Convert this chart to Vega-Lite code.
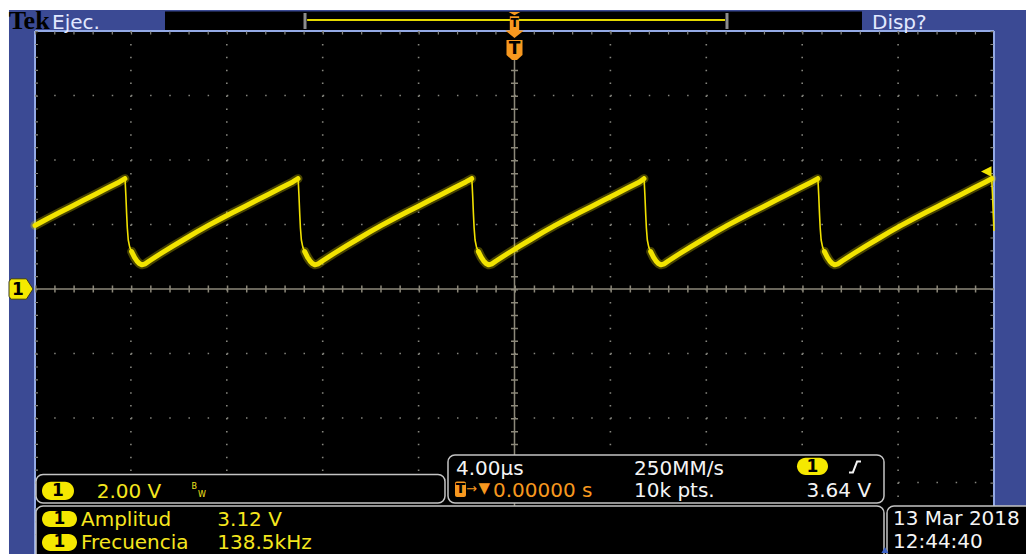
{
  "$schema": "https://vega.github.io/schema/vega-lite/v6.json",
  "width": 1026,
  "height": 554,
  "autosize": {"type": "none"},
  "padding": 0,
  "background": "#ffffff",
  "config": {"view": {"stroke": null}, "axis": {"disable": true}},
  "datasets": {
    "trace": [
      {"t":-20,"v":1.97,"s":"r0"},{"t":-19.48,"v":2.18,"s":"r0"},{"t":-18.98,"v":2.37,"s":"r0"},{"t":-18.48,"v":2.56,"s":"r0"},{"t":-17.98,"v":2.75,"s":"r0"},{"t":-17.48,"v":2.94,"s":"r0"},{"t":-16.98,"v":3.13,"s":"r0"},{"t":-16.48,"v":3.32,"s":"r0"},{"t":-16.25,"v":3.42,"s":"r0"},
      {"t":-16.25,"v":3.5,"s":"f1"},{"t":-16.21,"v":2.9,"s":"f1"},{"t":-16.18,"v":2.36,"s":"f1"},{"t":-16.15,"v":1.9,"s":"f1"},{"t":-16.11,"v":1.52,"s":"f1"},{"t":-16.05,"v":1.3,"s":"f1"},{"t":-15.97,"v":1.16,"s":"f1"},
      {"t":-15.97,"v":1.16,"s":"r1"},{"t":-15.85,"v":0.98,"s":"r1"},{"t":-15.75,"v":0.87,"s":"r1"},{"t":-15.65,"v":0.79,"s":"r1"},{"t":-15.55,"v":0.75,"s":"r1"},{"t":-15.4,"v":0.78,"s":"r1"},{"t":-15.25,"v":0.86,"s":"r1"},{"t":-14.75,"v":1.1,"s":"r1"},{"t":-14.25,"v":1.33,"s":"r1"},{"t":-13.75,"v":1.55,"s":"r1"},{"t":-13.25,"v":1.77,"s":"r1"},{"t":-12.75,"v":1.98,"s":"r1"},{"t":-12.25,"v":2.18,"s":"r1"},{"t":-11.75,"v":2.37,"s":"r1"},{"t":-11.25,"v":2.56,"s":"r1"},{"t":-10.75,"v":2.75,"s":"r1"},{"t":-10.25,"v":2.94,"s":"r1"},{"t":-9.75,"v":3.13,"s":"r1"},{"t":-9.25,"v":3.32,"s":"r1"},{"t":-9.03,"v":3.42,"s":"r1"},
      {"t":-9.03,"v":3.5,"s":"f2"},{"t":-8.99,"v":2.9,"s":"f2"},{"t":-8.96,"v":2.36,"s":"f2"},{"t":-8.93,"v":1.9,"s":"f2"},{"t":-8.89,"v":1.52,"s":"f2"},{"t":-8.83,"v":1.3,"s":"f2"},{"t":-8.75,"v":1.16,"s":"f2"},
      {"t":-8.75,"v":1.16,"s":"r2"},{"t":-8.63,"v":0.98,"s":"r2"},{"t":-8.53,"v":0.87,"s":"r2"},{"t":-8.43,"v":0.79,"s":"r2"},{"t":-8.33,"v":0.75,"s":"r2"},{"t":-8.18,"v":0.78,"s":"r2"},{"t":-8.03,"v":0.86,"s":"r2"},{"t":-7.53,"v":1.1,"s":"r2"},{"t":-7.03,"v":1.33,"s":"r2"},{"t":-6.53,"v":1.55,"s":"r2"},{"t":-6.03,"v":1.77,"s":"r2"},{"t":-5.53,"v":1.98,"s":"r2"},{"t":-5.03,"v":2.18,"s":"r2"},{"t":-4.53,"v":2.37,"s":"r2"},{"t":-4.03,"v":2.56,"s":"r2"},{"t":-3.53,"v":2.75,"s":"r2"},{"t":-3.03,"v":2.94,"s":"r2"},{"t":-2.53,"v":3.13,"s":"r2"},{"t":-2.03,"v":3.32,"s":"r2"},{"t":-1.785,"v":3.42,"s":"r2"},
      {"t":-1.785,"v":3.5,"s":"f3"},{"t":-1.745,"v":2.9,"s":"f3"},{"t":-1.715,"v":2.36,"s":"f3"},{"t":-1.685,"v":1.9,"s":"f3"},{"t":-1.645,"v":1.52,"s":"f3"},{"t":-1.585,"v":1.3,"s":"f3"},{"t":-1.505,"v":1.16,"s":"f3"},
      {"t":-1.505,"v":1.16,"s":"r3"},{"t":-1.385,"v":0.98,"s":"r3"},{"t":-1.285,"v":0.87,"s":"r3"},{"t":-1.185,"v":0.79,"s":"r3"},{"t":-1.085,"v":0.75,"s":"r3"},{"t":-0.935,"v":0.78,"s":"r3"},{"t":-0.785,"v":0.86,"s":"r3"},{"t":-0.285,"v":1.1,"s":"r3"},{"t":0.215,"v":1.33,"s":"r3"},{"t":0.715,"v":1.55,"s":"r3"},{"t":1.215,"v":1.77,"s":"r3"},{"t":1.715,"v":1.98,"s":"r3"},{"t":2.215,"v":2.18,"s":"r3"},{"t":2.715,"v":2.37,"s":"r3"},{"t":3.215,"v":2.56,"s":"r3"},{"t":3.715,"v":2.75,"s":"r3"},{"t":4.215,"v":2.94,"s":"r3"},{"t":4.715,"v":3.13,"s":"r3"},{"t":5.215,"v":3.32,"s":"r3"},{"t":5.4,"v":3.42,"s":"r3"},
      {"t":5.4,"v":3.5,"s":"f4"},{"t":5.44,"v":2.9,"s":"f4"},{"t":5.47,"v":2.36,"s":"f4"},{"t":5.5,"v":1.9,"s":"f4"},{"t":5.54,"v":1.52,"s":"f4"},{"t":5.6,"v":1.3,"s":"f4"},{"t":5.68,"v":1.16,"s":"f4"},
      {"t":5.68,"v":1.16,"s":"r4"},{"t":5.8,"v":0.98,"s":"r4"},{"t":5.9,"v":0.87,"s":"r4"},{"t":6.0,"v":0.79,"s":"r4"},{"t":6.1,"v":0.75,"s":"r4"},{"t":6.25,"v":0.78,"s":"r4"},{"t":6.4,"v":0.86,"s":"r4"},{"t":6.9,"v":1.1,"s":"r4"},{"t":7.4,"v":1.33,"s":"r4"},{"t":7.9,"v":1.55,"s":"r4"},{"t":8.4,"v":1.77,"s":"r4"},{"t":8.9,"v":1.98,"s":"r4"},{"t":9.4,"v":2.18,"s":"r4"},{"t":9.9,"v":2.37,"s":"r4"},{"t":10.4,"v":2.56,"s":"r4"},{"t":10.9,"v":2.75,"s":"r4"},{"t":11.4,"v":2.94,"s":"r4"},{"t":11.9,"v":3.13,"s":"r4"},{"t":12.4,"v":3.32,"s":"r4"},{"t":12.65,"v":3.42,"s":"r4"},
      {"t":12.65,"v":3.5,"s":"f5"},{"t":12.69,"v":2.9,"s":"f5"},{"t":12.72,"v":2.36,"s":"f5"},{"t":12.75,"v":1.9,"s":"f5"},{"t":12.79,"v":1.52,"s":"f5"},{"t":12.85,"v":1.3,"s":"f5"},{"t":12.93,"v":1.16,"s":"f5"},
      {"t":12.93,"v":1.16,"s":"r5"},{"t":13.05,"v":0.98,"s":"r5"},{"t":13.15,"v":0.87,"s":"r5"},{"t":13.25,"v":0.79,"s":"r5"},{"t":13.35,"v":0.75,"s":"r5"},{"t":13.5,"v":0.78,"s":"r5"},{"t":13.65,"v":0.86,"s":"r5"},{"t":14.15,"v":1.1,"s":"r5"},{"t":14.65,"v":1.33,"s":"r5"},{"t":15.15,"v":1.55,"s":"r5"},{"t":15.65,"v":1.77,"s":"r5"},{"t":16.15,"v":1.98,"s":"r5"},{"t":16.65,"v":2.18,"s":"r5"},{"t":17.15,"v":2.37,"s":"r5"},{"t":17.65,"v":2.56,"s":"r5"},{"t":18.15,"v":2.75,"s":"r5"},{"t":18.65,"v":2.94,"s":"r5"},{"t":19.15,"v":3.13,"s":"r5"},{"t":19.65,"v":3.32,"s":"r5"},{"t":19.9,"v":3.42,"s":"r5"},
      {"t":19.9,"v":3.5,"s":"f6"},{"t":19.94,"v":2.9,"s":"f6"},{"t":19.97,"v":2.3,"s":"f6"},{"t":20.0,"v":1.8,"s":"f6"}
    ],
    "vgrid": [{"t":-16},{"t":-12},{"t":-8},{"t":-4},{"t":4},{"t":8},{"t":12},{"t":16}],
    "hgrid": [{"v":-6},{"v":-4},{"v":-2},{"v":2},{"v":4},{"v":6}],
    "edgesV": [{"t":-19.937},{"t":19.916}],
    "borders": [
      {"t":-20,"t2":-20,"v":8.0,"v2":-8.4},
      {"t":-20,"t2":20,"v":8.0,"v2":8.0},
      {"t":20,"t2":20,"v":8.0,"v2":-6.76}
    ],
    "panels": [
      {"t":-19.958,"t2":-2.899,"v":-5.752,"v2":-6.636},
      {"t":-2.774,"t2":15.412,"v":-5.147,"v2":-6.636},
      {"t":-19.958,"t2":15.412,"v":-6.729,"v2":-8.6},
      {"t":15.537,"t2":21.7,"v":-6.729,"v2":-8.6}
    ],
    "pills": [
      {"t":-19.708,"t2":-18.374,"v":-5.975,"v2":-6.543},
      {"t":11.783,"t2":13.076,"v":-5.231,"v2":-5.767},
      {"t":-19.708,"t2":-18.248,"v":-6.884,"v2":-7.38},
      {"t":-19.708,"t2":-18.248,"v":-7.597,"v2":-8.124}
    ],
    "pillDigits": [
      {"t":-19.041,"v":-6.254,"label":"1"},
      {"t":12.43,"v":-5.504,"label":"1"},
      {"t":-18.978,"v":-7.132,"label":"1"},
      {"t":-18.978,"v":-7.86,"label":"1"},
      {"t":-20.709,"v":-0.02,"label":"1"}
    ],
    "yellowText": [
      {"t":-17.427,"v":-6.49,"label":"2.00 V"},
      {"t":-18.081,"v":-7.349,"label":"Amplitud"},
      {"t":-12.396,"v":-7.349,"label":"3.12 V"},
      {"t":-18.081,"v":-8.047,"label":"Frecuencia"},
      {"t":-12.396,"v":-8.047,"label":"138.5kHz"}
    ],
    "whiteText": [
      {"t":-2.44,"v":-5.752,"label":"4.00µs"},
      {"t":4.984,"v":-5.752,"label":"250MM/s"},
      {"t":4.984,"v":-6.45,"label":"10k pts."},
      {"t":12.18,"v":-6.45,"label":"3.64 V"},
      {"t":15.787,"v":-7.318,"label":"13 Mar  2018"},
      {"t":15.787,"v":-8.037,"label":"12:44:40"}
    ],
    "topText": [
      {"t":-19.291,"v":8.062,"label":"Ejec."},
      {"t":14.911,"v":8.062,"label":"Disp?"}
    ]
  },
  "layer": [
    {"data": {"values": [{}]}, "mark": {"type": "rect", "fill": "#3b4a94"},
     "encoding": {
       "x": {"datum": -21.085, "type": "quantitative", "scale": {"domain": [-21.46, 21.335], "nice": false, "zero": false}, "axis": null},
       "x2": {"datum": 21.5},
       "y": {"datum": 8.651, "type": "quantitative", "scale": {"domain": [-8.217, 8.961], "nice": false, "zero": false}, "axis": null},
       "y2": {"datum": -8.4}}},
    {"data": {"values": [{}]}, "mark": {"type": "rect", "fill": "#000000"},
     "encoding": {"x": {"datum": -20, "type": "quantitative"}, "x2": {"datum": 20}, "y": {"datum": 8.0, "type": "quantitative"}, "y2": {"datum": -8.4}}},
    {"data": {"values": [{}]}, "mark": {"type": "rect", "fill": "#000000"},
     "encoding": {"x": {"datum": -14.578, "type": "quantitative"}, "x2": {"datum": 14.494}, "y": {"datum": 8.605, "type": "quantitative"}, "y2": {"datum": 8.031}}},
    {"data": {"name": "borders"}, "mark": {"type": "rule", "color": "#94aae6", "strokeWidth": 2},
     "encoding": {"x": {"field": "t", "type": "quantitative"}, "x2": {"field": "t2"}, "y": {"field": "v", "type": "quantitative"}, "y2": {"field": "v2"}}},
    {"data": {"name": "vgrid"}, "mark": {"type": "rule", "color": "#85857e", "strokeWidth": 1.6, "strokeDash": [1.5, 11.4]},
     "encoding": {"x": {"field": "t", "type": "quantitative"}, "y": {"datum": 8, "type": "quantitative"}, "y2": {"datum": -8}}},
    {"data": {"name": "hgrid"}, "mark": {"type": "rule", "color": "#85857e", "strokeWidth": 1.6, "strokeDash": [1.5, 17.68]},
     "encoding": {"y": {"field": "v", "type": "quantitative"}, "x": {"datum": -20, "type": "quantitative"}, "x2": {"datum": 20}}},
    {"data": {"name": "edgesV"}, "mark": {"type": "rule", "color": "#85857e", "strokeWidth": 3, "strokeDash": [1.2, 11.7]},
     "encoding": {"x": {"field": "t", "type": "quantitative"}, "y": {"datum": 8, "type": "quantitative"}, "y2": {"datum": -8}}},
    {"data": {"values": [{}]}, "mark": {"type": "rule", "color": "#85857e", "strokeWidth": 3, "strokeDash": [1.2, 17.98]},
     "encoding": {"x": {"datum": -20, "type": "quantitative"}, "x2": {"datum": 20}, "y": {"datum": 7.938, "type": "quantitative"}}},
    {"data": {"values": [{}]}, "mark": {"type": "rule", "color": "#8c887a", "strokeWidth": 1.5},
     "encoding": {"x": {"datum": -20, "type": "quantitative"}, "x2": {"datum": 20}, "y": {"datum": 0, "type": "quantitative"}}},
    {"data": {"values": [{}]}, "mark": {"type": "rule", "color": "#8c887a", "strokeWidth": 7, "strokeDash": [1.5, 17.68]},
     "encoding": {"x": {"datum": -20, "type": "quantitative"}, "x2": {"datum": 20}, "y": {"datum": 0, "type": "quantitative"}}},
    {"data": {"values": [{}]}, "mark": {"type": "rule", "color": "#8c887a", "strokeWidth": 1.5},
     "encoding": {"x": {"datum": 0, "type": "quantitative"}, "y": {"datum": 7.1, "type": "quantitative"}, "y2": {"datum": -8}}},
    {"data": {"values": [{}]}, "mark": {"type": "rule", "color": "#8c887a", "strokeWidth": 7, "strokeDash": [1.5, 11.4]},
     "encoding": {"x": {"datum": 0, "type": "quantitative"}, "y": {"datum": 8, "type": "quantitative"}, "y2": {"datum": -8}}},
    {"data": {"name": "trace"}, "transform": [{"filter": "indexof(datum.s,'f')==0"}],
     "mark": {"type": "line", "color": "#f0e000", "strokeWidth": 1.6, "strokeJoin": "round"},
     "encoding": {"x": {"field": "t", "type": "quantitative"}, "y": {"field": "v", "type": "quantitative"}, "detail": {"field": "s"}, "order": {"field": "t", "type": "quantitative"}}},
    {"data": {"name": "trace"}, "transform": [{"filter": "indexof(datum.s,'r')==0"}],
     "mark": {"type": "line", "color": "#f0e000", "strokeWidth": 9, "opacity": 0.3, "strokeJoin": "round", "strokeCap": "round"},
     "encoding": {"x": {"field": "t", "type": "quantitative"}, "y": {"field": "v", "type": "quantitative"}, "detail": {"field": "s"}, "order": {"field": "t", "type": "quantitative"}}},
    {"data": {"name": "trace"}, "transform": [{"filter": "indexof(datum.s,'r')==0"}],
     "mark": {"type": "line", "color": "#f2e400", "strokeWidth": 5, "strokeJoin": "round", "strokeCap": "round"},
     "encoding": {"x": {"field": "t", "type": "quantitative"}, "y": {"field": "v", "type": "quantitative"}, "detail": {"field": "s"}, "order": {"field": "t", "type": "quantitative"}}},
    {"data": {"values": [{}]}, "mark": {"type": "point", "filled": true, "opacity": 1, "size": 576, "fill": "#f5ea00", "stroke": "#3a3a20", "strokeWidth": 1,
       "shape": "M-0.85,-0.85 L0.45,-0.85 L1,0 L0.45,0.85 L-0.85,0.85 L-1,0.6 L-1,-0.6 Z"},
     "encoding": {"x": {"datum": -20.584, "type": "quantitative"}, "y": {"datum": 0, "type": "quantitative"}}},
    {"data": {"values": [{}]}, "mark": {"type": "point", "filled": true, "opacity": 1, "size": 196, "fill": "#f2e400",
       "shape": "M-1,0 L0.5,-0.75 L0.5,0.75 Z"},
     "encoding": {"x": {"datum": 19.75, "type": "quantitative"}, "y": {"datum": 3.64, "type": "quantitative"}}},
    {"data": {"values": [{}]}, "mark": {"type": "rule", "color": "#8c8c8c", "strokeWidth": 3},
     "encoding": {"x": {"datum": -8.738, "type": "quantitative"}, "y": {"datum": 8.558, "type": "quantitative"}, "y2": {"datum": 8.062}}},
    {"data": {"values": [{}]}, "mark": {"type": "rule", "color": "#8c8c8c", "strokeWidth": 3},
     "encoding": {"x": {"datum": 8.863, "type": "quantitative"}, "y": {"datum": 8.558, "type": "quantitative"}, "y2": {"datum": 8.062}}},
    {"data": {"values": [{}]}, "mark": {"type": "rule", "color": "#e6da00", "strokeWidth": 2},
     "encoding": {"x": {"datum": -8.65, "type": "quantitative"}, "x2": {"datum": 8.78}, "y": {"datum": 8.341, "type": "quantitative"}}},
    {"data": {"values": [{}]}, "mark": {"type": "point", "filled": true, "opacity": 1, "size": 676, "fill": "#f7981f",
       "shape": "M-0.45,-1 L0.45,-1 L0,-0.75 Z M-0.36,-0.68 L0.36,-0.68 L0.36,0.42 L0.72,0.42 L0,1 L-0.72,0.42 L-0.36,0.42 Z"},
     "encoding": {"x": {"datum": 0, "type": "quantitative"}, "y": {"datum": 8.186, "type": "quantitative"}}},
    {"data": {"values": [{}]}, "mark": {"type": "text", "text": "T", "font": "DejaVu Sans", "fontWeight": "bold", "fontSize": 12, "fill": "#000000", "align": "center", "baseline": "middle"},
     "encoding": {"x": {"datum": 0, "type": "quantitative"}, "y": {"datum": 8.233, "type": "quantitative"}}},
    {"data": {"values": [{}]}, "mark": {"type": "point", "filled": true, "opacity": 1, "size": 400, "fill": "#f7981f",
       "shape": "M-0.8,-1 L0.8,-1 L0.8,0.5 L0.25,1 L-0.25,1 L-0.8,0.5 Z"},
     "encoding": {"x": {"datum": 0, "type": "quantitative"}, "y": {"datum": 7.411, "type": "quantitative"}}},
    {"data": {"values": [{}]}, "mark": {"type": "text", "text": "T", "font": "DejaVu Sans", "fontWeight": "bold", "fontSize": 17, "fill": "#000000", "align": "center", "baseline": "middle"},
     "encoding": {"x": {"datum": 0, "type": "quantitative"}, "y": {"datum": 7.442, "type": "quantitative"}}},
    {"data": {"name": "panels"}, "mark": {"type": "rect", "fill": "#000000", "stroke": "#c4c4c4", "strokeWidth": 1.5, "cornerRadius": 7},
     "encoding": {"x": {"field": "t", "type": "quantitative"}, "x2": {"field": "t2"}, "y": {"field": "v", "type": "quantitative"}, "y2": {"field": "v2"}}},
    {"data": {"name": "pills"}, "mark": {"type": "rect", "fill": "#f5e800", "cornerRadius": 9},
     "encoding": {"x": {"field": "t", "type": "quantitative"}, "x2": {"field": "t2"}, "y": {"field": "v", "type": "quantitative"}, "y2": {"field": "v2"}}},
    {"data": {"name": "pillDigits"}, "mark": {"type": "text", "font": "DejaVu Sans", "fontWeight": "bold", "fontSize": 17, "fill": "#000000", "align": "center", "baseline": "middle"},
     "encoding": {"x": {"field": "t", "type": "quantitative"}, "y": {"field": "v", "type": "quantitative"}, "text": {"field": "label"}}},
    {"data": {"name": "yellowText"}, "mark": {"type": "text", "font": "DejaVu Sans", "fontSize": 20, "fill": "#f5e61e", "align": "left", "baseline": "alphabetic"},
     "encoding": {"x": {"field": "t", "type": "quantitative"}, "y": {"field": "v", "type": "quantitative"}, "text": {"field": "label"}}},
    {"data": {"name": "whiteText"}, "mark": {"type": "text", "font": "DejaVu Sans", "fontSize": 20, "fill": "#f4f4f4", "align": "left", "baseline": "alphabetic"},
     "encoding": {"x": {"field": "t", "type": "quantitative"}, "y": {"field": "v", "type": "quantitative"}, "text": {"field": "label"}}},
    {"data": {"values": [{}]}, "mark": {"type": "text", "text": "B", "font": "DejaVu Sans", "fontSize": 8, "fill": "#f5e61e", "align": "left", "baseline": "alphabetic"},
     "encoding": {"x": {"datum": -13.47, "type": "quantitative"}, "y": {"datum": -6.19, "type": "quantitative"}}},
    {"data": {"values": [{}]}, "mark": {"type": "text", "text": "W", "font": "DejaVu Sans", "fontSize": 8, "fill": "#f5e61e", "align": "left", "baseline": "alphabetic"},
     "encoding": {"x": {"datum": -13.2, "type": "quantitative"}, "y": {"datum": -6.45, "type": "quantitative"}}},
    {"data": {"values": [{}]}, "mark": {"type": "rect", "fill": "#f7981f", "cornerRadius": 2},
     "encoding": {"x": {"datum": -2.482, "type": "quantitative"}, "x2": {"datum": -2.023}, "y": {"datum": -5.97, "type": "quantitative"}, "y2": {"datum": -6.45}}},
    {"data": {"values": [{}]}, "mark": {"type": "text", "text": "T", "font": "DejaVu Sans", "fontWeight": "bold", "fontSize": 14, "fill": "#000000", "align": "center", "baseline": "middle"},
     "encoding": {"x": {"datum": -2.252, "type": "quantitative"}, "y": {"datum": -6.21, "type": "quantitative"}}},
    {"data": {"values": [{}]}, "mark": {"type": "text", "text": "→", "font": "DejaVu Sans", "fontSize": 13, "fill": "#f7981f", "align": "center", "baseline": "middle"},
     "encoding": {"x": {"datum": -1.8, "type": "quantitative"}, "y": {"datum": -6.21, "type": "quantitative"}}},
    {"data": {"values": [{}]}, "mark": {"type": "text", "text": "▼", "font": "DejaVu Sans", "fontSize": 15, "fill": "#f7981f", "align": "center", "baseline": "middle"},
     "encoding": {"x": {"datum": -1.26, "type": "quantitative"}, "y": {"datum": -6.16, "type": "quantitative"}}},
    {"data": {"values": [{}]}, "mark": {"type": "text", "text": "0.00000 s", "font": "DejaVu Sans", "fontSize": 20, "fill": "#f7981f", "align": "left", "baseline": "alphabetic"},
     "encoding": {"x": {"datum": -0.9, "type": "quantitative"}, "y": {"datum": -6.45, "type": "quantitative"}}},
    {"data": {"values": [{}]}, "mark": {"type": "point", "filled": false, "opacity": 1, "size": 144, "stroke": "#f4f4f4", "strokeWidth": 2,
       "shape": "M-1,0.9 L-0.35,0.9 L0.35,-0.9 L1,-0.9"},
     "encoding": {"x": {"datum": 14.202, "type": "quantitative"}, "y": {"datum": -5.519, "type": "quantitative"}}},
    {"data": {"values": [{}]}, "mark": {"type": "point", "filled": true, "opacity": 1, "size": 50, "fill": "#3d63c8", "shape": "triangle-up"},
     "encoding": {"x": {"datum": 15.45, "type": "quantitative"}, "y": {"datum": -8.093, "type": "quantitative"}}},
    {"data": {"values": [{}]}, "mark": {"type": "text", "text": "Tek", "font": "Liberation Serif", "fontWeight": "bold", "fontSize": 26, "fill": "#000000", "align": "left", "baseline": "alphabetic"},
     "encoding": {"x": {"datum": -21.1, "type": "quantitative"}, "y": {"datum": 8.05, "type": "quantitative"}}},
    {"data": {"name": "topText"}, "mark": {"type": "text", "font": "DejaVu Sans", "fontSize": 20, "fill": "#e2e8ff", "align": "left", "baseline": "alphabetic"},
     "encoding": {"x": {"field": "t", "type": "quantitative"}, "y": {"field": "v", "type": "quantitative"}, "text": {"field": "label"}}}
  ]
}
